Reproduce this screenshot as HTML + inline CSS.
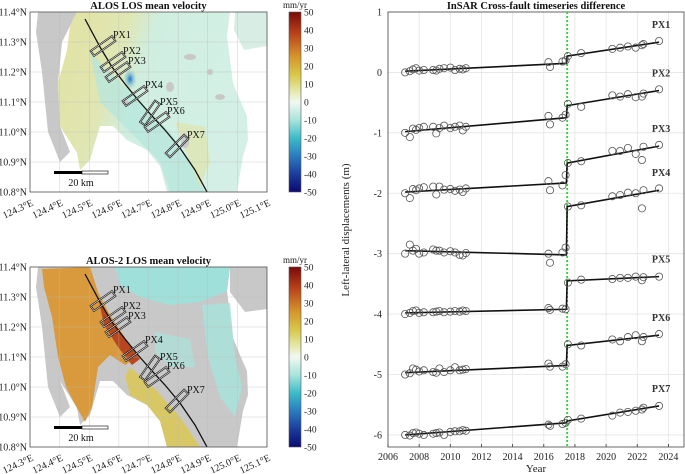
<!DOCTYPE html>
<html><head><meta charset="utf-8">
<style>
html,body{margin:0;padding:0;background:#fff;}
svg{display:block;font-family:"Liberation Serif",serif;}
</style></head>
<body>
<svg id="fig" width="685" height="474" viewBox="0 0 685 474" xmlns="http://www.w3.org/2000/svg">
<defs>
<linearGradient id="cbar" x1="0" y1="0" x2="0" y2="1">
<stop offset="0" stop-color="#7a0a0a"/><stop offset="0.12" stop-color="#b8431a"/><stop offset="0.25" stop-color="#d7962c"/><stop offset="0.35" stop-color="#d8c84a"/><stop offset="0.45" stop-color="#e6ecb8"/><stop offset="0.5" stop-color="#f2f8f2"/><stop offset="0.6" stop-color="#a8e4dc"/><stop offset="0.7" stop-color="#3cbcc8"/><stop offset="0.8" stop-color="#2a7cc0"/><stop offset="0.9" stop-color="#1c3c9c"/><stop offset="1" stop-color="#0a0a70"/>
</linearGradient>
<linearGradient id="m1grad" x1="0" y1="0" x2="1" y2="0.3">
<stop offset="0" stop-color="#e2e3a0"/><stop offset="0.35" stop-color="#e0e6b4"/><stop offset="0.5" stop-color="#cfeee0"/><stop offset="1" stop-color="#d4f0e6"/>
</linearGradient>
<radialGradient id="blue1" cx="0.5" cy="0.5" r="0.5"><stop offset="0" stop-color="#2070c8"/><stop offset="1" stop-color="#8cd6dc" stop-opacity="0"/></radialGradient>
</defs>
<g id="maps"></g>
<g id="chart"></g>
</svg>
<script>
// ===== Chart data =====
const preYears = [2007.1,2007.4,2007.6,2007.8,2008.0,2008.3,2008.9,2009.1,2009.3,2009.6,2010.0,2010.3,2010.6,2010.8,2011.0,2016.3,2016.4,2017.2,2017.4];
const postYears = [2017.55,2018.4,2020.4,2020.9,2021.4,2021.9,2022.3,2022.4,2023.4];
const px1Pre = [0,0.02,0.05,0.07,0.03,0.04,0.04,0.03,0.06,0.07,0.08,0.04,0.06,0.05,0.07,0.17,0.09,0.18,0.2];
const px1Post = [0.27,0.32,0.39,0.41,0.43,0.41,0.45,0.47,0.52];
const px2Pre = [-1,-1.07,-0.93,-0.95,-0.92,-0.9,-0.9,-1.01,-0.92,-0.88,-0.92,-0.9,-0.88,-0.96,-0.9,-0.72,-0.86,-0.75,-0.7];
const px2Post = [-0.52,-0.57,-0.38,-0.4,-0.36,-0.41,-0.4,-0.35,-0.28];
const px3Pre = [-2,-2.08,-1.93,-1.95,-1.92,-1.9,-1.89,-2.02,-1.89,-1.94,-1.93,-1.96,-1.94,-1.98,-1.92,-1.8,-1.95,-1.87,-1.7];
const px3Post = [-1.5,-1.47,-1.3,-1.3,-1.25,-1.35,-1.45,-1.23,-1.2];
const px4Pre = [-3,-2.85,-2.95,-2.92,-3.0,-2.98,-2.93,-2.95,-2.95,-2.98,-2.96,-2.98,-3.02,-3.03,-2.99,-3.0,-3.15,-2.98,-2.9];
const px4Post = [-2.22,-2.2,-2.05,-2.03,-1.99,-2.0,-2.25,-1.95,-1.92];
const px5Pre = [-4,-3.98,-3.95,-3.94,-3.98,-3.97,-3.97,-3.96,-3.95,-3.97,-3.96,-3.95,-3.96,-3.94,-3.95,-3.9,-3.93,-3.91,-3.92];
const px5Post = [-3.48,-3.43,-3.42,-3.4,-3.4,-3.38,-3.44,-3.39,-3.38];
const px6Pre = [-5,-4.98,-4.9,-4.92,-4.95,-4.93,-4.96,-4.97,-4.9,-4.96,-4.93,-4.88,-4.93,-4.92,-4.91,-4.82,-4.87,-4.87,-4.83];
const px6Post = [-4.5,-4.52,-4.42,-4.45,-4.38,-4.35,-4.45,-4.38,-4.33];
const px7Pre = [-6,-6.01,-5.97,-5.96,-5.98,-6.0,-5.98,-5.97,-5.96,-6.0,-5.95,-5.94,-5.94,-5.92,-5.93,-5.83,-5.85,-5.82,-5.8];
const px7Post = [-5.75,-5.73,-5.68,-5.63,-5.62,-5.6,-5.58,-5.55,-5.52];
const seriesNames = ["PX1","PX2","PX3","PX4","PX5","PX6","PX7"];
const preFitStart = [0.02,-0.98,-1.98,-2.95,-3.98,-4.97,-6.0];
const preFitEnd = [0.15,-0.75,-1.83,-3.02,-3.92,-4.85,-5.8];
const postFitStart = [0.27,-0.55,-1.5,-2.22,-3.45,-4.52,-5.77];
const postFitEnd = [0.5,-0.3,-1.22,-1.95,-3.38,-4.35,-5.52];
const xTicks = [2006,2008,2010,2012,2014,2016,2018,2020,2022,2024];
const yTicks = [1,0,-1,-2,-3,-4,-5,-6];
const quakeYear = 2017.5;

const NS="http://www.w3.org/2000/svg";
function mk(parent,tag,attrs,text){const e=document.createElementNS(NS,tag);for(const k in attrs)e.setAttribute(k,attrs[k]);if(text!==undefined)e.textContent=text;parent.appendChild(e);return e;}

// ===== Chart =====
const chart=document.getElementById('chart');
const X0=388,X1=684,Y0=12,Y1=447;
const xMin=2006,xMax=2025,yMin=-6.2,yMax=1;
function sx(v){return X0+(v-xMin)/(xMax-xMin)*(X1-X0);}
function sy(v){return Y0+(yMax-v)/(yMax-yMin)*(Y1-Y0);}
const plotBg=mk(chart,'rect',{x:X0,y:Y0,width:X1-X0,height:Y1-Y0,fill:'#fff',stroke:'none'});


xTicks.forEach(t=>{
  const g=mk(chart,'line',{x1:sx(t),x2:sx(t),y1:Y0,y2:Y1,stroke:'#e4e4e4','stroke-width':0.8});
  
  
  const tk=mk(chart,'line',{x1:sx(t),x2:sx(t),y1:Y1,y2:Y1-3,stroke:'#333','stroke-width':0.8});
  
  
  const l=mk(chart,'text',{x:sx(t),y:Y1+13,'font-size':10,'text-anchor':'middle',fill:'#222'},String(t));
  
  
});
yTicks.forEach(t=>{
  const g=mk(chart,'line',{x1:X0,x2:X1,y1:sy(t),y2:sy(t),stroke:'#e4e4e4','stroke-width':0.8});
  
  
  const l=mk(chart,'text',{x:X0-6,y:sy(t)+3.5,'font-size':10,'text-anchor':'end',fill:'#222'},String(t));
  
  
});
const frame=mk(chart,'rect',{x:X0,y:Y0,width:X1-X0,height:Y1-Y0,fill:'none',stroke:'#444','stroke-width':0.8});


const eq=mk(chart,'line',{x1:sx(quakeYear),x2:sx(quakeYear),y1:Y0,y2:Y1,stroke:'#22dd22','stroke-width':1.8,'stroke-dasharray':'2,2'});


const allPre=[px1Pre,px2Pre,px3Pre,px4Pre,px5Pre,px6Pre,px7Pre];
const allPost=[px1Post,px2Post,px3Post,px4Post,px5Post,px6Post,px7Post];
for(let i=0;i<7;i++){
  const g=mk(chart,'g',{});
  
  
  const pts=[[preYears[0],preFitStart[i]],[quakeYear-0.05,preFitEnd[i]],[quakeYear,postFitStart[i]],[postYears[postYears.length-1],postFitEnd[i]]];
  const ln=mk(g,'polyline',{points:pts.map(p=>sx(p[0])+','+sy(p[1])).join(' '),fill:'none',stroke:'#111','stroke-width':1.6});
  
  
  allPre[i].forEach((v,j)=>{
    const c=mk(g,'circle',{cx:sx(preYears[j]),cy:sy(v),r:3.6,fill:'none',stroke:'#555','stroke-width':0.8});
    
    
  });
  allPost[i].forEach((v,j)=>{
    const c=mk(g,'circle',{cx:sx(postYears[j]),cy:sy(v),r:3.6,fill:'none',stroke:'#555','stroke-width':0.8});
    
    
  });
  const lab=mk(g,'text',{x:sx(2023.4)+2,y:sy(postFitEnd[i])-14,'font-size':10,'font-weight':'bold','text-anchor':'middle',fill:'#333'},seriesNames[i]);
  
  
}
const ct=mk(chart,'text',{x:(X0+X1)/2,y:9,'font-size':10.5,'font-weight':'bold','text-anchor':'middle',fill:'#111'},'InSAR Cross-fault timeseries difference');


const xt=mk(chart,'text',{x:(X0+X1)/2,y:472,'font-size':11,'text-anchor':'middle',fill:'#222'},'Year');


const yt=mk(chart,'text',{x:0,y:0,'font-size':11,'text-anchor':'middle',fill:'#222',transform:'translate(349,230) rotate(-90)'},'Left-lateral displacements (m)');



// ===== Maps =====
const maps=document.getElementById('maps');
const mainIsland="47,0 200,0 197,24 203,71 210,88 217,104 218,128 213,144 207,180 137,180 130,154 117,138 97,128 83,114 70,114 60,148 50,158 47,141 30,114 28,71 37,38 40,14";
const westGrey="8,0 47,0 40,14 32,30 28,71 30,114 40,140 30,150 18,120 12,60 6,20";
const faultPts="55,7 70,35 82,55 95,72 108,88 122,104 135,118 150,136 165,158 177,180";
const boxes=[[73,34,-35,"PX1"],[83,50,-35,"PX2"],[88,60,-35,"PX3"],[105,84,-35,"PX4"],[120,101,-55,"PX5"],[127,110,-35,"PX6"],[147,134,-45,"PX7"]];
const lonTicks=["124.3°E","124.4°E","124.5°E","124.6°E","124.7°E","124.8°E","124.9°E","125.0°E","125.1°E"];
const latTicks=["11.4°N","11.3°N","11.2°N","11.1°N","11.0°N","10.9°N","10.8°N"];
const cbTicks=[50,40,30,20,10,0,-10,-20,-30,-40,-50];
function drawMap(oy,title,variant,name){
  const W=237,H=180,ox=30;
  const g=mk(maps,'g',{transform:'translate('+ox+','+oy+')'});
  
  
  mk(g,'rect',{x:0,y:0,width:W,height:H,fill:'#fff'});
  mk(g,'polygon',{points:westGrey,fill:'#c8c8c8'});
  if(variant===1){
    mk(g,'polygon',{points:"205,0 237,0 237,34 214,38 204,18",fill:'#d8eee4'});
    mk(g,'polygon',{points:mainIsland,fill:'url(#m1grad)'});
    mk(g,'polygon',{points:"60,40 90,70 120,100 140,120 165,160 175,180 140,180 130,150 110,130 90,110 70,90",fill:'#b8e6dc',opacity:0.8});
    mk(g,'ellipse',{cx:100,cy:67,rx:7,ry:11,fill:'url(#blue1)'});
    mk(g,'polygon',{points:"145,110 175,115 180,150 170,175 160,150",fill:'#dfe6b0',opacity:0.8});
    [[160,45,6,3],[140,75,4,5],[190,85,5,3],[180,60,3,3],[155,130,4,6],[95,90,3,3]].forEach(p=>mk(g,'ellipse',{cx:p[0],cy:p[1],rx:p[2],ry:p[3],fill:'#c8c8c8'}));
  }else{
    mk(g,'polygon',{points:"200,0 237,0 237,42 215,45 200,25",fill:'#c8c8c8'});
    mk(g,'polygon',{points:mainIsland,fill:'#c8c8c8'});
    mk(g,'polygon',{points:"85,0 200,0 197,24 170,35 140,38 110,30 90,18",fill:'#9fe0da'});
    mk(g,'polygon',{points:"172,38 200,36 205,90 212,120 205,150 190,130 178,90",fill:'#a8e2da',opacity:0.85});
    mk(g,'polygon',{points:"125,65 160,72 165,100 140,100 125,85",fill:'#a8e2da',opacity:0.7});
    mk(g,'polygon',{points:"12,2 60,0 68,25 80,48 96,72 105,92 95,98 80,88 68,100 62,140 55,155 47,141 36,120 28,90 22,50 14,20",fill:'#d89a3c'});
    mk(g,'polygon',{points:"68,30 80,52 96,74 110,92 102,98 88,80 74,58",fill:'#b8461e'});
    mk(g,'polygon',{points:"100,100 125,122 150,150 170,180 137,180 130,154 117,138 100,128 95,110",fill:'#d8c85a',opacity:0.9});
  }
  // grid
  for(let i=0;i<9;i++){mk(g,'line',{x1:i*W/8,x2:i*W/8,y1:0,y2:H,stroke:'#bbb','stroke-width':0.5,opacity:0.7});}
  for(let i=0;i<7;i++){mk(g,'line',{x1:0,x2:W,y1:i*H/6,y2:i*H/6,stroke:'#bbb','stroke-width':0.5,opacity:0.7});}
  const f=mk(g,'polyline',{points:faultPts,fill:'none',stroke:'#111','stroke-width':1.3});
  
  
  boxes.forEach(b=>{
    const bg=mk(g,'g',{transform:'translate('+b[0]+','+b[1]+') rotate('+b[2]+')'});
    
    
    mk(bg,'rect',{x:-13,y:-3,width:26,height:6,fill:'none',stroke:'#000','stroke-width':1.8});
    mk(bg,'rect',{x:-13,y:-3,width:26,height:6,fill:'none',stroke:'#fff','stroke-width':0.6});
    const t=mk(g,'text',{x:b[0]+10,y:b[1]-8,'font-size':10,fill:'#111'},b[3]);
    
    
  });
  // scale bar
  const sb=mk(g,'g',{});
  
  
  mk(sb,'rect',{x:24,y:159,width:28,height:3,fill:'#000'});
  mk(sb,'rect',{x:52,y:159,width:26,height:3,fill:'#fff',stroke:'#000','stroke-width':0.6});
  mk(sb,'text',{x:51,y:174,'font-size':10,'text-anchor':'middle',fill:'#111'},'20 km');
  mk(g,'rect',{x:0,y:0,width:W,height:H,fill:'none',stroke:'#555','stroke-width':0.8});
  latTicks.forEach((l,i)=>{
    const t=mk(g,'text',{x:-3,y:i*H/6+3.5,'font-size':10,'text-anchor':'end',fill:'#222'},l);
    
    
  });
  lonTicks.forEach((l,i)=>{
    const x=i*W/8+4,y=H+13;
    const t=mk(g,'text',{x:x,y:y,'font-size':10,'text-anchor':'end',fill:'#222',transform:'rotate(-25 '+x+' '+y+')'},l);
    
    
  });
  const tt=mk(g,'text',{x:W/2,y:-3,'font-size':10.5,'font-weight':'bold','text-anchor':'middle',fill:'#111'},title);
  
  
  // colorbar
  const cb=mk(maps,'g',{transform:'translate(289,'+oy+')'});
  
  
  mk(cb,'rect',{x:0,y:0,width:12,height:H,fill:'url(#cbar)',stroke:'#555','stroke-width':0.6});
  cbTicks.forEach((v,i)=>{
    const t=mk(cb,'text',{x:15,y:i*H/10+3.5,'font-size':9.5,fill:'#222'},String(v));
    
    
  });
  mk(cb,'text',{x:6,y:-4,'font-size':9,'text-anchor':'middle',fill:'#222'},'mm/yr');
}
drawMap(12,'ALOS LOS mean velocity',1,'alos-map');
drawMap(267,'ALOS-2 LOS mean velocity',2,'alos2-map');
</script>
</body></html>
